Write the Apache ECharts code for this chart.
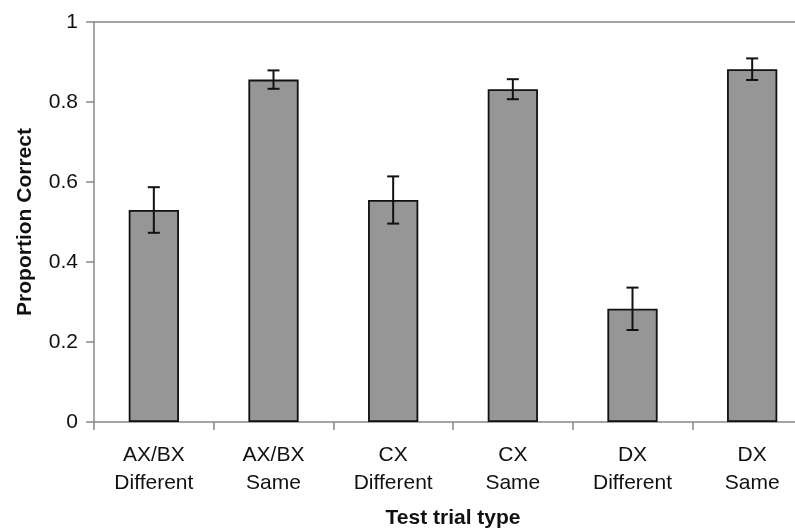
<!DOCTYPE html>
<html>
<head>
<meta charset="utf-8">
<script src="https://cdn.jsdelivr.net/npm/echarts@6/dist/echarts.min.js"></script>
<style>
html,body{margin:0;padding:0;background:#fff;}
#chart{width:795px;height:529px;}
</style>
</head>
<body>
<div id="chart"></div>
<script>
var categories = ['AX/BX\nDifferent', 'AX/BX\nSame', 'CX\nDifferent', 'CX\nSame', 'DX\nDifferent', 'DX\nSame'];
var means = [0.530, 0.856, 0.555, 0.832, 0.283, 0.882];
var errors = [0.057, 0.023, 0.059, 0.025, 0.053, 0.027];
var yTicks = [0, 0.2, 0.4, 0.6, 0.8, 1];

var errData = means.map(function (m, i) { return [i, m - errors[i], m + errors[i]]; });

var chart = echarts.init(document.getElementById('chart'));
var FONT = '"Liberation Sans", Arial, sans-serif';
chart.setOption({
  animation: false,
  backgroundColor: '#fff',
  grid: { left: 94, top: 22, right: -17, bottom: 107, outerBoundsMode: 'none' },
  xAxis: [{
    type: 'category',
    data: categories,
    name: 'Test trial type',
    nameLocation: 'middle',
    nameGap: 86,
    nameTextStyle: { fontFamily: FONT, fontSize: 21, fontWeight: 'bold', color: '#111' },
    axisLine: { lineStyle: { color: '#888', width: 1.5 } },
    axisTick: { show: true, length: 8, lineStyle: { color: '#888', width: 1.5 } },
    axisLabel: { fontFamily: FONT, fontSize: 21, color: '#111', lineHeight: 28, margin: 19, interval: 0 },
    splitLine: { show: false }
  }, {
    type: 'category',
    position: 'top',
    data: categories,
    axisLine: { show: true, lineStyle: { color: '#888', width: 1.5 } },
    axisTick: { show: false },
    axisLabel: { show: false }
  }],
  yAxis: {
    type: 'value',
    min: 0, max: 1, interval: 0.2,
    name: 'Proportion Correct',
    nameLocation: 'middle',
    nameGap: 58,
    nameRotate: 90,
    nameTextStyle: { fontFamily: FONT, fontSize: 21, fontWeight: 'bold', color: '#111' },
    axisLine: { show: true, lineStyle: { color: '#888', width: 1.5 } },
    axisTick: { show: true, length: 8, lineStyle: { color: '#888', width: 1.5 } },
    axisLabel: {
      fontFamily: FONT, fontSize: 21, color: '#111', margin: 16,
      formatter: function (v) { return yTicks.indexOf(Math.round(v * 10) / 10) >= 0 ? String(Math.round(v * 10) / 10) : ''; }
    },
    splitLine: { show: false }
  },
  series: [{
    type: 'bar',
    data: means,
    barWidth: '42%',
    itemStyle: { color: '#969696', borderColor: '#111', borderWidth: 1.8 }
  }, {
    type: 'custom',
    data: errData,
    z: 10,
    renderItem: function (params, api) {
      var lo = api.coord([api.value(0), api.value(1)]);
      var hi = api.coord([api.value(0), api.value(2)]);
      var hw = 6;
      var style = { stroke: '#111', lineWidth: 2, fill: null };
      return {
        type: 'group',
        children: [
          { type: 'line', shape: { x1: hi[0], y1: hi[1], x2: lo[0], y2: lo[1] }, style: style },
          { type: 'line', shape: { x1: hi[0] - hw, y1: hi[1], x2: hi[0] + hw, y2: hi[1] }, style: style },
          { type: 'line', shape: { x1: lo[0] - hw, y1: lo[1], x2: lo[0] + hw, y2: lo[1] }, style: style }
        ]
      };
    }
  }]
});
</script>
</body>
</html>
